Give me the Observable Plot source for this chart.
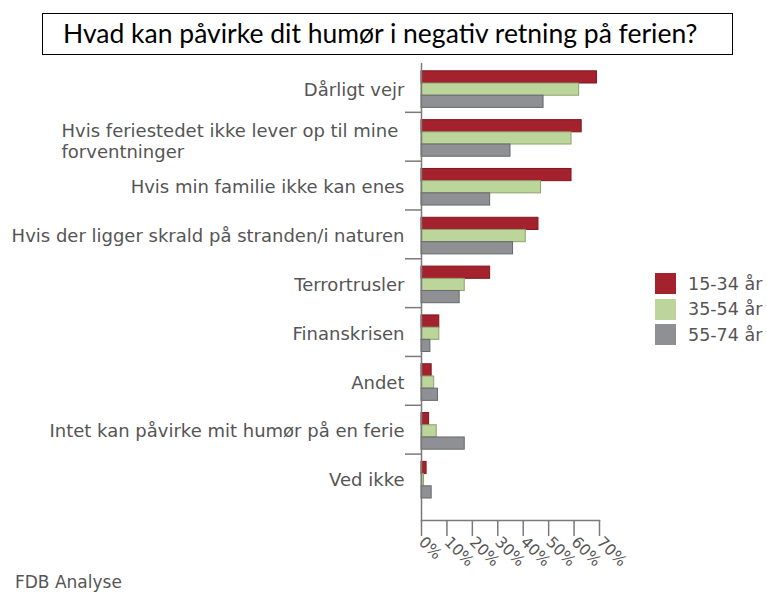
<!DOCTYPE html>
<html>
<head>
<meta charset="utf-8">
<script src="https://cdn.jsdelivr.net/npm/d3@7"></script>
<script src="https://cdn.jsdelivr.net/npm/@observablehq/plot@0.6"></script>
<style>
  html, body { margin: 0; padding: 0; background: #fff; }
  #wrap { position: relative; width: 767px; height: 592px; overflow: hidden; font-family: "DejaVu Sans", Verdana, sans-serif; }
  #title { position: absolute; left: 42px; top: 13px; width: 691px; height: 42px; box-sizing: border-box;
           border: 1.5px solid #000; font-family: Lato, "Open Sans", sans-serif; font-size: 26.5px; color: #000;
           padding-left: 20px; line-height: 38px; white-space: nowrap; }
  #chart { position: absolute; left: 0; top: 0; }
  #legend { position: absolute; left: 655px; top: 271px; }
  .row { display: flex; align-items: center; height: 25.5px; }
  .sw { width: 21px; height: 21px; margin-right: 12px; }
  .lab { font-size: 17.5px; color: #555; }
  #caption { position: absolute; left: 15px; top: 572px; font-size: 17px; color: #555; line-height: 20px; }
</style>
</head>
<body>
<div id="wrap">
  <div id="chart"></div>
  <div id="title">Hvad kan påvirke dit humør i negativ retning på ferien?</div>
  <div id="legend"></div>
  <div id="caption">FDB Analyse</div>
</div>
<script>
const categories = [
  "Dårligt vejr",
  "Hvis feriestedet ikke lever op til mine\nforventninger",
  "Hvis min familie ikke kan enes",
  "Hvis der ligger skrald på stranden/i naturen",
  "Terrortrusler",
  "Finanskrisen",
  "Andet",
  "Intet kan påvirke mit humør på en ferie",
  "Ved ikke"
];
const ages = ["15-34 år", "35-54 år", "55-74 år"];
const v1534 = [0.69, 0.63, 0.59, 0.46, 0.27, 0.07, 0.04, 0.03, 0.02];
const v3554 = [0.62, 0.59, 0.47, 0.41, 0.17, 0.07, 0.05, 0.06, 0.01];
const v5574 = [0.48, 0.35, 0.27, 0.36, 0.15, 0.035, 0.065, 0.17, 0.04];
const colors = ["#a3222d", "#bcd59b", "#8e9094"];
const strokes = ["#7d1820", "#8ea070", "#66686c"];
const xTicks = [0, 0.1, 0.2, 0.3, 0.4, 0.5, 0.6, 0.7];

const series = [v1534, v3554, v5574];
const W = 767, H = 592, mTop = 63, mBottom = 72, mLeft = 421, mRight = 168;
const padOuter = 0.18;
const step = (H - mTop - mBottom) / (categories.length + 2 * padOuter);
const barTop = 7.8, barH = 12.2;

const rows = ages.map((a, s) => categories.map((c, i) => ({category: c, age: a, value: series[s][i]})));

const barMarks = rows.map((data, s) => Plot.barX(data, {
  y: "category", x: "value",
  fill: colors[s], stroke: strokes[s], strokeWidth: 1,
  insetTop: barTop + s * barH,
  insetBottom: step - (barTop + (s + 1) * barH)
}));

const chart = Plot.plot({
  width: W, height: H,
  marginTop: mTop, marginBottom: mBottom, marginLeft: mLeft, marginRight: mRight,
  style: {fontFamily: "'DejaVu Sans', Verdana, sans-serif", color: "#555", background: "transparent"},
  x: {domain: [0, 0.7]},
  y: {domain: categories, paddingInner: 0, paddingOuter: padOuter, align: 0, round: false},
  marks: [
    ...barMarks,
    Plot.ruleX([0], {stroke: "#7a7a7a", strokeWidth: 1.5}),
    Plot.frame({anchor: "bottom", stroke: "#7a7a7a", strokeWidth: 1.5}),
    Plot.ruleY(categories.slice(1), {y: d => d, dy: -step / 2, x1: 0, x2: 0, insetLeft: -16, stroke: "#7a7a7a", strokeWidth: 1.5}),
    Plot.axisY({tickSize: 0, tickPadding: 17, fontSize: 18, label: null, dy: 2,
      tickFormat: d => d.includes("\n") ? "" : d}),
    Plot.text(categories.filter(d => d.includes("\n")), {y: d => d, text: d => d, frameAnchor: "left",
      textAnchor: "start", dx: -360, dy: 4, fontSize: 18, fill: "#555", lineHeight: 1.15}),
    Plot.axisX({ticks: xTicks, tickFormat: d3.format(".0%"), tickSize: 16, tickPadding: 3, tickRotate: 45,
      fontSize: 15.5, label: null, stroke: "#7a7a7a", strokeWidth: 1.5})
  ]
});
document.getElementById("chart").appendChild(chart);

const legend = document.getElementById("legend");
ages.forEach((a, s) => {
  const r = document.createElement("div"); r.className = "row";
  const sw = document.createElement("div"); sw.className = "sw"; sw.style.background = colors[s];
  const lb = document.createElement("span"); lb.className = "lab"; lb.textContent = a;
  r.appendChild(sw); r.appendChild(lb); legend.appendChild(r);
});
</script>
</body>
</html>
